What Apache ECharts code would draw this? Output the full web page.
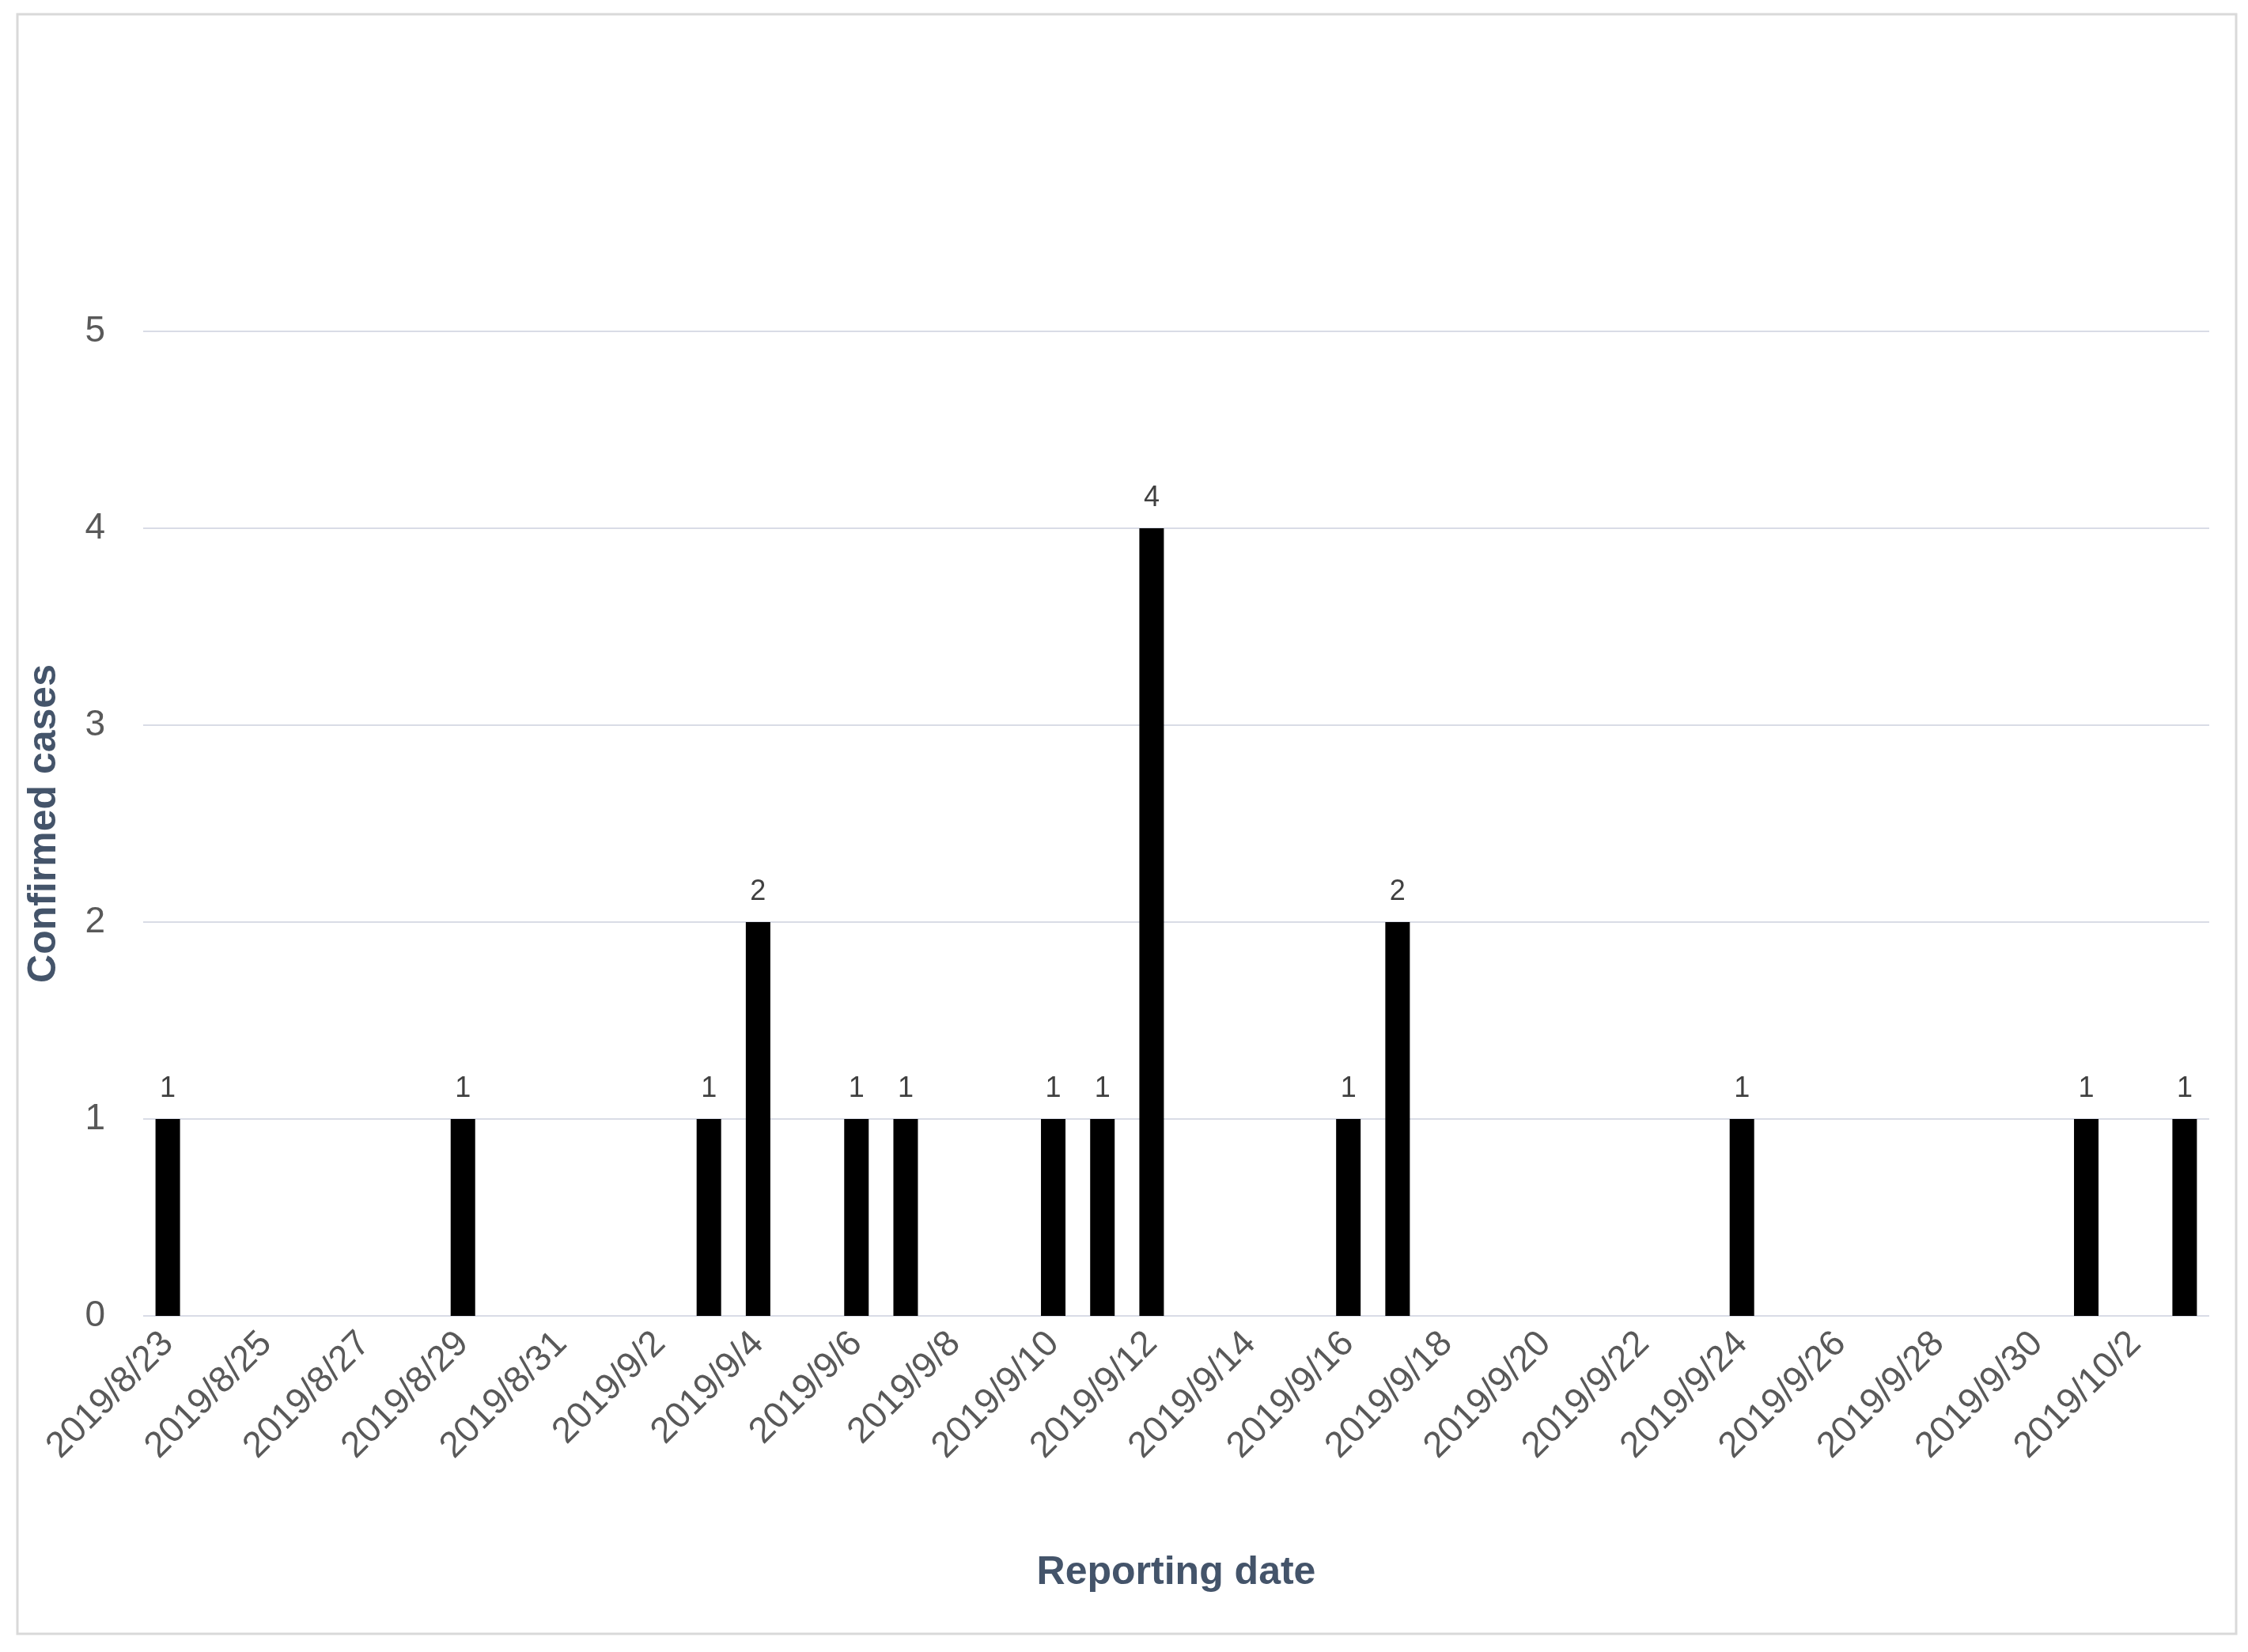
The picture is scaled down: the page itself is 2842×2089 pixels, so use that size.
<!DOCTYPE html>
<html>
<head>
<meta charset="utf-8">
<script src="https://cdn.jsdelivr.net/npm/echarts@6/dist/echarts.min.js"></script>
<style>html,body{margin:0;padding:0;background:#fff}#main{width:2842px;height:2089px}</style>
</head>
<body>
<div id="main"></div>
<script>
// 日期与病例数
var dates = ['2019/8/23','2019/8/24','2019/8/25','2019/8/26','2019/8/27','2019/8/28','2019/8/29','2019/8/30','2019/8/31',
  '2019/9/1','2019/9/2','2019/9/3','2019/9/4','2019/9/5','2019/9/6','2019/9/7','2019/9/8','2019/9/9','2019/9/10',
  '2019/9/11','2019/9/12','2019/9/13','2019/9/14','2019/9/15','2019/9/16','2019/9/17','2019/9/18','2019/9/19',
  '2019/9/20','2019/9/21','2019/9/22','2019/9/23','2019/9/24','2019/9/25','2019/9/26','2019/9/27','2019/9/28',
  '2019/9/29','2019/9/30','2019/10/1','2019/10/2','2019/10/3'];
var cases = [1,0,0,0,0,0,1,0,0,
  0,0,1,2,0,1,1,0,0,1,
  1,4,0,0,0,1,2,0,0,
  0,0,0,0,1,0,0,0,0,
  0,0,1,0,1];

var chart = echarts.init(document.getElementById('main'));
var option = {
  backgroundColor: '#fff',
  textStyle: {fontFamily: 'Liberation Sans, Arial, sans-serif'},
  graphic: [{
    type: 'rect',
    shape: {x: 22, y: 18, width: 2805, height: 2048},
    style: {fill: 'none', stroke: '#d9d9d9', lineWidth: 3}
  }],
  grid: {left: 181, right: 49, top: 419, bottom: 425},
  xAxis: {
    type: 'category',
    data: dates,
    name: 'Reporting date',
    nameLocation: 'middle',
    nameGap: 300,
    nameTextStyle: {fontSize: 50, fontWeight: 'bold', color: '#44546a'},
    axisLine: {show: false},
    axisTick: {show: false},
    axisLabel: {interval: 1, rotate: 45, fontSize: 46, color: '#595959', margin: 28}
  },
  yAxis: {
    type: 'value',
    min: 0, max: 5, interval: 1,
    name: 'Confirmed cases',
    nameLocation: 'middle',
    nameGap: 100,
    nameTextStyle: {fontSize: 50, fontWeight: 'bold', color: '#44546a'},
    axisLabel: {fontSize: 46, color: '#595959', margin: 48},
    splitLine: {lineStyle: {color: '#d9dce6', width: 2}}
  },
  series: [{
    type: 'bar',
    data: cases,
    barWidth: 31,
    itemStyle: {color: '#000'},
    label: {
      show: true, position: 'top', distance: 20,
      fontSize: 36, color: '#404040',
      formatter: function (p) { return p.value ? p.value : ''; }
    }
  }]
};
chart.setOption(option);
</script>
</body>
</html>
